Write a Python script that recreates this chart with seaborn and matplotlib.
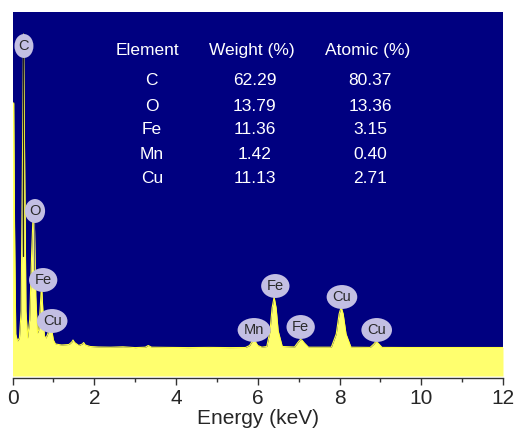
import numpy as np
import pandas as pd
import matplotlib
matplotlib.use("Agg")
import matplotlib.pyplot as plt
import seaborn as sns

# ---- data ----
energy_kev = [0.00, 0.03, 0.05, 0.08, 0.12, 0.17, 0.21, 0.24, 0.27, 0.30, 0.33, 0.37,
              0.42, 0.47, 0.50, 0.52, 0.54, 0.57, 0.61, 0.64, 0.68, 0.71, 0.74, 0.78,
              0.82, 0.87, 0.90, 0.93, 0.96, 1.00, 1.05, 1.20, 1.38, 1.45, 1.48, 1.52,
              1.62, 1.71, 1.74, 1.78, 1.90, 2.10, 2.40, 2.70, 3.00, 3.25, 3.32, 3.40,
              3.80, 4.30, 4.80, 5.30, 5.70, 5.80, 5.86, 5.90, 5.94, 6.00, 6.10, 6.22,
              6.30, 6.35, 6.40, 6.45, 6.50, 6.60, 6.90, 6.98, 7.04, 7.08, 7.14, 7.24,
              7.80, 7.92, 7.99, 8.04, 8.09, 8.16, 8.28, 8.75, 8.84, 8.89, 8.94, 9.04,
              9.60, 10.40, 11.20, 12.00]
counts = [2730, 2730, 1500, 420, 350, 380, 650, 2000, 3420, 2000, 650, 380,
          560, 1250, 1580, 1630, 1450, 800, 430, 460, 700, 920, 680, 400,
          380, 430, 500, 520, 460, 360, 320, 310, 315, 340, 360, 335,
          305, 320, 335, 310, 295, 290, 288, 292, 284, 288, 305, 288,
          286, 284, 286, 284, 285, 305, 345, 360, 345, 305, 288, 295,
          450, 680, 790, 680, 450, 295, 290, 335, 365, 360, 330, 288,
          288, 420, 620, 690, 620, 420, 288, 286, 320, 345, 330, 286,
          285, 285, 285, 285]

peak_labels = ["C", "O", "Fe", "Cu", "Mn", "Fe", "Fe", "Cu", "Cu"]
peak_energy = [0.28, 0.55, 0.75, 0.97, 5.91, 6.43, 7.05, 8.06, 8.91]
peak_label_level = [3300, 1650, 960, 550, 460, 900, 490, 790, 460]

table_elements = ["C", "O", "Fe", "Mn", "Cu"]
weight_pct = ["62.29", "13.79", "11.36", "1.42", "11.13"]
atomic_pct = ["80.37", "13.36", "3.15", "0.40", "2.71"]
table_headers = ["Element", "Weight (%)", "Atomic (%)"]

x_ticks = [0, 2, 4, 6, 8, 10, 12]

# ---- styling ----
sns.set_theme(style="white")
plt.rcParams["font.family"] = ["Liberation Sans", "DejaVu Sans"]

NAVY = "#000080"
YELLOW = "#ffff6e"
LABEL_FC = "#c3bfe3"

fig = plt.figure(figsize=(5.18, 4.32), dpi=100)
ax = fig.add_axes([12.5 / 518, 1 - 378 / 432, 490.5 / 518, 366 / 432])

df = pd.DataFrame({"energy": energy_kev, "counts": counts})

ax.axhspan(0, 3640, xmin=0, xmax=1, color=NAVY, lw=0, zorder=0)
ax.fill_between(df["energy"], 0, df["counts"], color=YELLOW, lw=0, zorder=1)
sns.lineplot(data=df, x="energy", y="counts", color="#ffff40", lw=0.8,
             ax=ax, zorder=2, sort=False)

# marker lines under C and O labels
ax.plot([peak_energy[0] - 0.02, peak_energy[0] - 0.02], [1200, peak_label_level[0]],
        color="#222222", lw=0.9, zorder=3)
ax.plot([peak_energy[1] - 0.03, peak_energy[1] - 0.03], [1060, peak_label_level[1]],
        color="#777777", lw=0.9, zorder=3)

for name, e, lv in zip(peak_labels, peak_energy, peak_label_level):
    ax.text(e, lv, name, ha="center", va="center", fontsize=10.5, color="#2a2a2a",
            zorder=5,
            bbox=dict(boxstyle="ellipse,pad=0.1", fc=LABEL_FC, ec="none"))

# composition table
col_x_head = [0.276, 0.487, 0.724]
col_x_val = [0.284, 0.494, 0.729]
row_y = [0.896 - 0.082, 0.743, 0.678, 0.612, 0.546]
for hx, h in zip(col_x_head, table_headers):
    ax.text(hx, 0.896, h, transform=ax.transAxes, ha="center", va="center",
            color="white", fontsize=12.5)
for ry, el, w, a in zip(row_y, table_elements, weight_pct, atomic_pct):
    for cx, s in zip(col_x_val, [el, w, a]):
        ax.text(cx, ry, s, transform=ax.transAxes, ha="center", va="center",
                color="white", fontsize=12.5)

ax.set_xlim(0, 12)
ax.set_ylim(-20, 3640)
ax.set_xticks(x_ticks)
ax.set_xticks(np.arange(1, 12, 2), minor=True)
ax.set_xticklabels([str(t) for t in x_ticks])
ax.set_yticks([])
ax.tick_params(axis="x", which="major", direction="out", length=5, width=1,
               color="#333333", labelsize=15, pad=3, bottom=True)
ax.tick_params(axis="x", which="minor", direction="out", length=3, width=1,
               color="#333333", bottom=True)
for s in ["left", "right", "top"]:
    ax.spines[s].set_visible(False)
ax.spines["bottom"].set_color("#333333")
ax.spines["bottom"].set_linewidth(1)
ax.set_xlabel("Energy (keV)", fontsize=15, labelpad=1)
ax.set_ylabel("")
ax.set_facecolor("white")

fig.savefig("out.png", dpi=100)
